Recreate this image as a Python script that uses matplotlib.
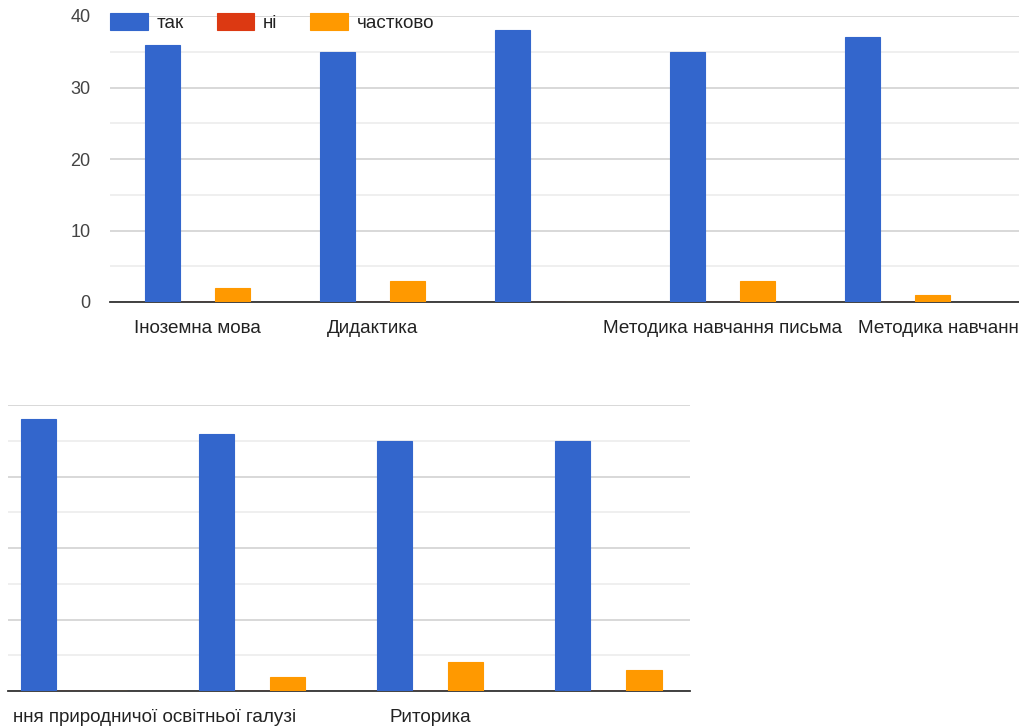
import matplotlib
matplotlib.use("Agg")
import matplotlib.pyplot as plt
import matplotlib.transforms as mtransforms
import numpy as np

plt.rcParams['font.family'] = ['Liberation Sans', 'DejaVu Sans']

series_names = ["так", "ні", "частково"]
colors = ["#3366CC", "#DC3912", "#FF9900"]

# upper part of the chart (labels as visible in the cropped screenshot)
top_labels = ["Іноземна мова", "Дидактика", "", "Методика навчання письма", "Методика навчанн"]
top_yes = [36, 35, 38, 35, 37]
top_no = [0, 0, 0, 0, 0]
top_partly = [2, 3, 0, 3, 1]

# lower (continued) part of the chart
bottom_labels = ["ння природничої освітньої галузі", "", "Риторика", ""]
bottom_yes = [38, 36, 35, 35]
bottom_no = [0, 0, 0, 0]
bottom_partly = [0, 2, 4, 3]

FS = 13.6
W, H = 1019, 726
fig = plt.figure(figsize=(W / 100, H / 100), dpi=100)


def px_axes(left, right, top, bottom):
    return fig.add_axes([left / W, 1 - bottom / H, (right - left) / W, (bottom - top) / H])


def draw(ax, series, labels, xlim, show_y):
    x = np.arange(len(labels))
    width = 0.2
    offs = [-0.2, 0.0, 0.2]
    handles = []
    for vals, c, off, name in zip(series, colors, offs, series_names):
        b = ax.bar(x + off, vals, width, color=c, edgecolor=c, linewidth=0.8,
                   label=name, zorder=3)
        handles.append(b)
    ax.set_ylim(0, 40)
    ax.set_xlim(*xlim)
    ax.set_yticks(range(0, 41, 10))
    ax.set_yticks(range(5, 40, 10), minor=True)
    ax.grid(axis='y', which='major', color='#d6d6d6', lw=1.3)
    ax.grid(axis='y', which='minor', color='#eeeeee', lw=1.3)
    ax.set_axisbelow(True)
    for s in ax.spines.values():
        s.set_visible(False)
    ax.axhline(0, color='#333333', lw=1.3, zorder=2, clip_on=False)
    ax.set_xticks(x)
    ax.set_xticklabels(labels)
    ax.tick_params(axis='both', which='both', length=0)
    ax.tick_params(axis='x', pad=13, labelsize=FS, labelcolor='#222222')
    ax.tick_params(axis='y', pad=14, labelsize=13, labelcolor='#444444', labelleft=show_y)
    return handles


ax1 = px_axes(110, 1019, 16, 302)
handles = draw(ax1, [top_yes, top_no, top_partly], top_labels, (-0.5, 4.694), True)

ax2 = px_axes(8, 690, 405, 691)
draw(ax2, [bottom_yes, bottom_no, bottom_partly], bottom_labels, (-0.371, 3.46), False)

# shifted category labels (as placed by the original chart)
lab = ax1.get_xticklabels()[4]
lab.set_horizontalalignment('left')
lab.set_transform(lab.get_transform() + mtransforms.ScaledTranslation(-39.5 / 100, 0, fig.dpi_scale_trans))

lab = ax2.get_xticklabels()[0]
lab.set_horizontalalignment('right')
lab.set_transform(lab.get_transform() + mtransforms.ScaledTranslation(222 / 100, 0, fig.dpi_scale_trans))

leg = ax1.legend(handles=handles, loc='upper left', bbox_to_anchor=(110 / W, 1 - 13 / H),
                 bbox_transform=fig.transFigure, ncol=3, frameon=False, fontsize=FS,
                 handlelength=2.0, handleheight=1.0, handletextpad=0.45,
                 columnspacing=1.75, borderpad=0, borderaxespad=0)
for t in leg.get_texts():
    t.set_color('#222222')

fig.savefig("out.png", dpi=100, facecolor='white')
